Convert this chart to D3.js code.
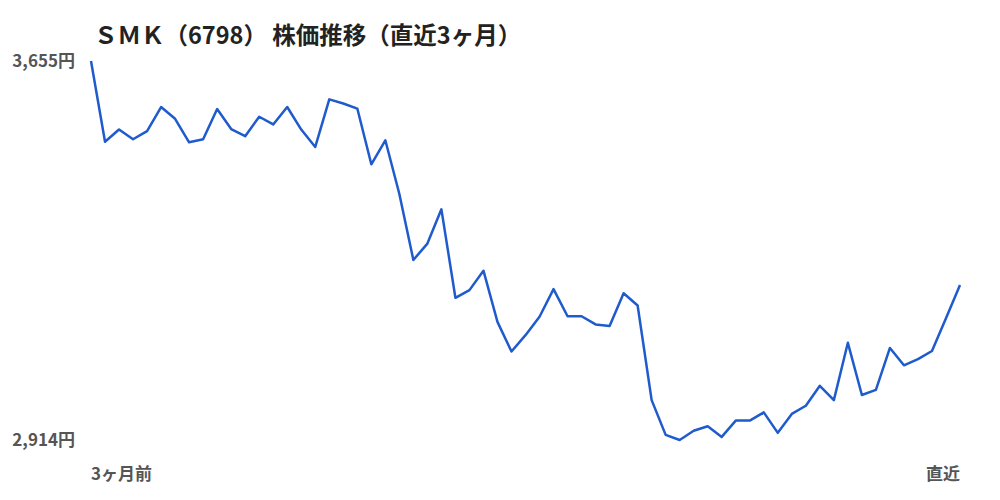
<!DOCTYPE html>
<html>
<head>
<meta charset="utf-8">
<script src="https://cdn.jsdelivr.net/npm/d3@7"></script>
<style>
	body { margin: 0; background: #fff; }
	text { font-family: "Noto Sans CJK JP", "Noto Sans", sans-serif; }
</style>
</head>
<body>
<div id="chart"></div>
<script>
// Chart data
const title = 'ＳＭＫ（6798） 株価推移（直近3ヶ月）';
const prices = [
	3655, 3497, 3521, 3502, 3518, 3565, 3542, 3496, 3502, 3561,
	3522, 3508, 3546, 3531, 3565, 3521, 3487, 3580, 3572, 3562,
	3453, 3500, 3395, 3266, 3298, 3365, 3192, 3207, 3245, 3145,
	3087, 3119, 3155, 3209, 3156, 3156, 3140, 3137, 3201, 3177,
	2992, 2924, 2914, 2932, 2941, 2920, 2952, 2952, 2968, 2928,
	2965, 2981, 3020, 2992, 3104, 3002, 3012, 3094, 3060, 3072,
	3088, 3152, 3217,
];
const yTicks = [3655, 2914];
const xLabels = ['3ヶ月前', '直近'];

const width = 1000;
const height = 500;

const svg = d3.select('#chart')
	.append('svg')
	.attr('width', width)
	.attr('height', height);

const x = d3.scaleLinear()
	.domain([0, prices.length - 1])
	.range([91, 960]);

const y = d3.scaleLinear()
	.domain([d3.min(prices), d3.max(prices)])
	.range([440, 61]);

// Title
svg.append('text')
	.attr('x', 94)
	.attr('y', 44)
	.attr('font-size', 23.5)
	.attr('font-weight', 'bold')
	.attr('fill', '#222')
	.text(title);

// Min / max labels on the left
const fmt = d3.format(',');
svg.selectAll('.ylabel')
	.data(yTicks)
	.join('text')
	.attr('class', 'ylabel')
	.attr('x', 75)
	.attr('y', (d) => y(d))
	.attr('dy', '0.35em')
	.attr('text-anchor', 'end')
	.attr('font-size', 17)
	.attr('font-weight', 'bold')
	.attr('fill', '#555')
	.text((d) => `${fmt(d)}円`);

// Start / end labels under the line
svg.selectAll('.xlabel')
	.data(xLabels)
	.join('text')
	.attr('class', 'xlabel')
	.attr('x', (d, i) => (i === 0 ? x(0) : x(prices.length - 1)))
	.attr('y', 474)
	.attr('dy', '0.35em')
	.attr('text-anchor', (d, i) => (i === 0 ? 'start' : 'end'))
	.attr('font-size', 17)
	.attr('font-weight', 'bold')
	.attr('fill', '#555')
	.text((d) => d);

// Price line
const line = d3.line()
	.x((d, i) => x(i))
	.y((d) => y(d));

svg.append('path')
	.datum(prices)
	.attr('d', line)
	.attr('fill', 'none')
	.attr('stroke', '#1f5bcc')
	.attr('stroke-width', 2.5)
	.attr('stroke-linejoin', 'round');
</script>
</body>
</html>
